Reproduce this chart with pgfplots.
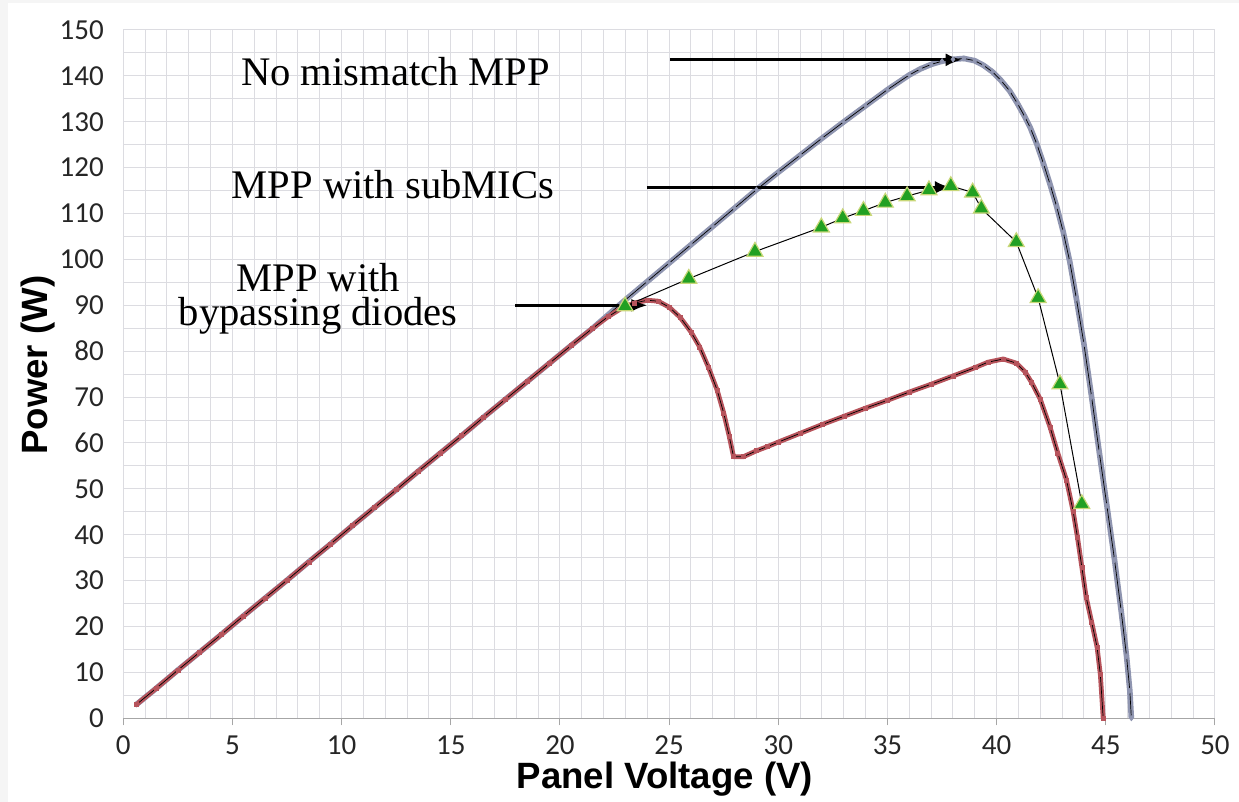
\documentclass[border=0pt]{standalone}
\usepackage{pgfplots}
\pgfplotsset{compat=1.18}
\usepackage{pgfplotstable}
\usetikzlibrary{arrows.meta}
\usepackage{fontspec}
\setmainfont{Liberation Serif}
\newfontfamily\tickfont{Carlito}
\newfontfamily\labfont{Liberation Sans}
\definecolor{redc}{RGB}{183,84,92}
\definecolor{bluec}{RGB}{143,149,176}
\definecolor{greenc}{RGB}{34,160,34}
\definecolor{greenedge}{RGB}{200,215,120}
\definecolor{gridc}{RGB}{220,220,225}
\newcommand\bypasslabel{\vbox{\baselineskip=16.7pt\lineskiplimit=-30pt\halign{\hfil##\hfil\cr MPP with\cr bypassing diodes\cr}}}

\pgfplotstableread{
V P
0.6 3.0
1.5 6.5
2.5 10.5
3.5 14.4
4.5 18.3
5.5 22.3
6.5 26.2
7.5 30.1
8.5 34.1
9.5 38.0
10.5 42.0
11.5 45.9
12.5 49.8
13.5 53.8
14.5 57.7
15.5 61.6
16.5 65.6
17.5 69.5
18.5 73.4
19.5 77.3
20.5 81.2
21.5 85.0
22.2 87.5
22.8 89.3
23.4 90.5
24.0 91.1
24.5 90.9
25.0 89.6
25.5 87.4
26.0 84.2
26.4 80.9
26.8 76.5
27.2 71.5
27.5 66.5
27.75 61.5
27.95 57.0
28.4 57.0
29.0 58.3
29.5 59.2
30.0 60.2
31.0 62.1
32.0 64.0
33.0 65.8
34.0 67.6
35.0 69.3
36.0 71.1
37.0 72.8
38.0 74.6
39.0 76.4
39.6 77.6
40.3 78.3
40.9 77.4
41.3 75.5
41.6 73.2
42.0 69.5
42.45 63.4
42.8 57.8
43.2 51.9
43.5 45.2
43.7 39.5
43.9 33.0
44.1 26.4
44.35 21.0
44.6 15.5
44.75 9.5
44.88 0
}\redtab

\pgfplotstableread{
V P
0.6 3.0
1.5 6.5
2.5 10.5
3.5 14.4
4.5 18.3
5.5 22.3
6.5 26.2
7.5 30.1
8.5 34.1
9.5 38.0
10.5 42.0
11.5 45.9
12.5 49.8
13.5 53.8
14.5 57.7
15.5 61.6
16.5 65.6
17.5 69.5
18.5 73.4
19.5 77.3
20.5 81.2
21.5 85.0
22.8 90.4
24.0 95.2
25.0 99.2
26.0 103.2
27.0 107.2
28.0 111.2
29.0 115.2
30.0 119.0
31.0 122.7
32.0 126.4
33.0 130.0
34.0 133.5
35.0 137.0
36.0 140.2
36.5 141.5
37.0 142.5
37.5 143.2
38.0 143.6
38.5 143.8
39.0 143.3
39.4 142.3
39.8 140.9
40.2 139.0
40.6 136.7
40.95 134.0
41.3 131.0
41.55 128.6
41.85 125.0
42.15 120.8
42.45 116.3
42.75 111.5
43.05 106.0
43.35 99.5
43.65 91.5
44.0 81.5
44.35 70.0
44.7 58.0
45.05 46.3
45.4 34.5
45.7 23.5
45.95 13.5
46.1 6.0
46.17 0
}\bluetab

\pgfplotstableread{
V P
22.98 89.8
25.9 95.8
28.93 101.7
31.97 107.0
32.95 109.0
33.9 110.6
34.9 112.4
35.9 113.8
36.9 115.1
37.9 116.0
38.9 114.6
39.3 111.1
40.9 103.8
41.9 91.6
42.9 72.8
43.9 46.7
}\greentab

\begin{document}
\begin{tikzpicture}
\useasboundingbox (0,0) rectangle (619.5pt,401pt);
\fill[gray!8] (0,0) rectangle (4pt,401pt);
\fill[gray!8] (0,399.5pt) rectangle (619.5pt,401pt);
\begin{axis}[
  at={(61.65pt,41.85pt)}, anchor=south west,
  scale only axis, width=545.85pt, height=344.15pt,
  xmin=0, xmax=50, ymin=0, ymax=150,
  xtick={0,5,...,50}, ytick={0,10,...,150},
  minor x tick num=4, minor y tick num=1,
  grid=both,
  major grid style={draw=gridc, line width=0.5pt},
  minor grid style={draw=gridc, line width=0.5pt},
  axis line style={draw=none},
  xtick pos=bottom, ytick pos=left,
  tick align=outside,
  major tick length=3.5pt, minor tick length=0pt,
  x tick style={draw=gray!70, line width=0.5pt},
  y tick style={draw=none},
  /pgf/number format/assume math mode=true,
  ticklabel style={font=\tickfont\fontsize{14.5}{17}\selectfont, text=black!85},
  xticklabel style={yshift=-1.7pt},
  yticklabel style={xshift=-2.7pt},
  xlabel={Panel Voltage (V)},
  ylabel={Power (W)},
  label style={font=\labfont\bfseries\fontsize{18.3}{22}\selectfont, inner sep=0pt},
  xlabel style={at={(rel axis cs:0.496,-0.089)}, anchor=center},
  ylabel style={at={(rel axis cs:-0.0785,0.513)}, anchor=center},
  clip=false,
]
\draw[gray!70, line width=0.5pt] (axis cs:0,0) -- (axis cs:50,0);
% no mismatch
\addplot[bluec, line width=2.8pt, line join=round] table {\bluetab};
\addplot[black, line width=0.35pt, mark=diamond*, mark size=1.3pt,
  mark options={draw=bluec, fill=bluec, line width=0.3pt}] table {\bluetab};
% bypass diodes
\addplot[redc, line width=2.4pt, line join=round] table {\redtab};
\addplot[black, line width=0.35pt, mark=square*, mark size=1pt,
  mark options={draw=redc, fill=redc, line width=0.3pt}] table {\redtab};
% subMICs
\addplot[black, line width=0.5pt, mark=triangle*, mark size=4.6pt,
  mark options={draw=greenedge, fill=greenc, line width=0.6pt}] table {\greentab};
% arrows
\draw[line width=1.4pt, -{Latex[length=8pt,width=6.5pt]}] (axis cs:25.05,143.5) -- (axis cs:38.4,143.5);
\draw[line width=1.4pt, -{Latex[length=8pt,width=6.5pt]}] (axis cs:23.98,115.7) -- (axis cs:37.9,115.7);
\draw[line width=1.4pt, -{Latex[length=8pt,width=6.5pt]}] (axis cs:17.95,90.0) -- (axis cs:24.0,90.0);
% labels
\node[font=\fontsize{20.3}{24}\selectfont, anchor=base, inner sep=0pt] at (axis cs:12.47,138.0) {No mismatch MPP};
\node[font=\fontsize{20.3}{24}\selectfont, anchor=base, inner sep=0pt] at (axis cs:12.35,113.3) {MPP with subMICs};
\node[font=\fontsize{20.3}{24}\selectfont, anchor=base, inner sep=0pt] at (axis cs:8.93,85.7) {\bypasslabel};
\end{axis}
\end{tikzpicture}
\end{document}
